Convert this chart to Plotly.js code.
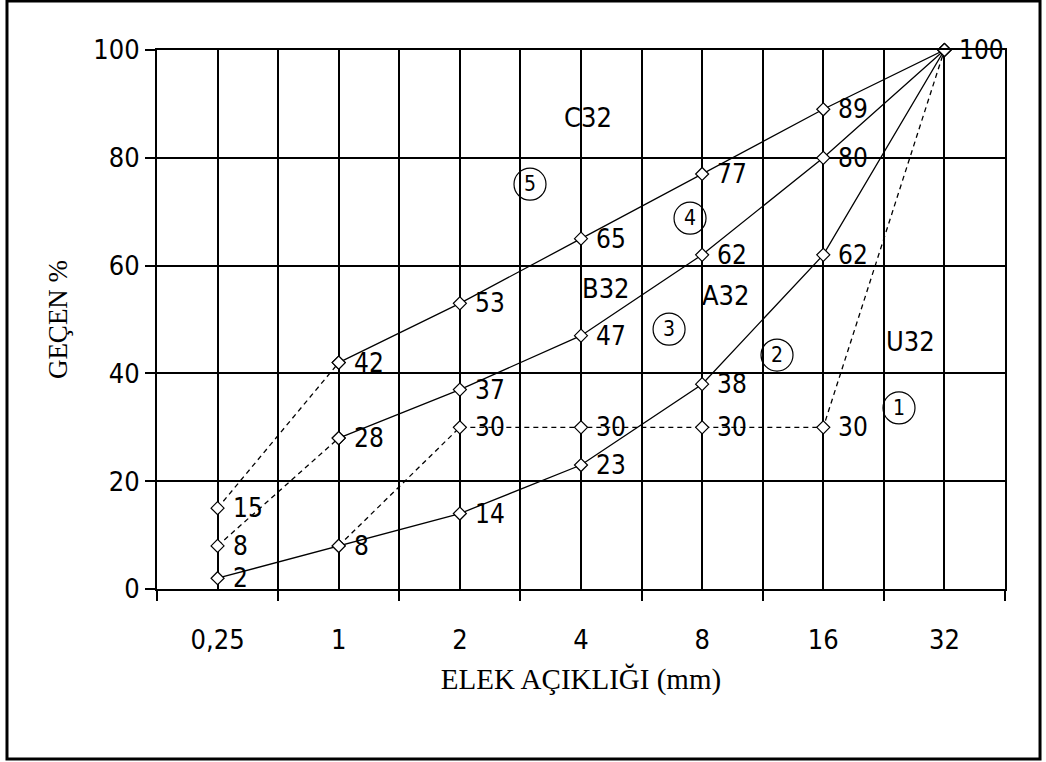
<!DOCTYPE html>
<html>
<head>
<meta charset="utf-8">
<script src="https://cdn.plot.ly/plotly-3.0.1.min.js"></script>
<style>html,body{margin:0;padding:0;background:#fff;}#chart{width:1046px;height:762px;}</style>
</head>
<body>
<div id="chart"></div>
<script>
// Sieve sizes (category axis) and passing percentages for the grading limit curves
const sieveSizes = ['0,25', '1', '2', '4', '8', '16', '32'];
const C32 = [15, 42, 53, 65, 77, 89, 100];
const B32 = [8, 28, 37, 47, 62, 80, 100];
const A32 = [2, 8, 14, 23, 38, 62, 100];
const U32 = [null, 8, 30, 30, 30, 30, 100];
const yTicks = [0, 20, 40, 60, 80, 100];
const curveNames = ['C32', 'B32', 'A32', 'U32'];
const zoneNumbers = ['1', '2', '3', '4', '5'];

const NARROW = '"Liberation Sans Narrow", "DejaVu Sans Condensed", "Arial Narrow", sans-serif';
const SERIF = '"Liberation Serif", "DejaVu Serif", serif';
const idx = sieveSizes.map((_, i) => i);

const markerStyle = {symbol: 'diamond', size: 10, color: '#fff', line: {color: '#000', width: 1.2}};
function seg(name, ys, from, to, dash) {
  const xs = [], vs = [];
  for (let i = from; i <= to; i++) { if (ys[i] !== null) { xs.push(i); vs.push(ys[i]); } }
  return {x: xs, y: vs, type: 'scatter', mode: 'lines+markers', name: name, cliponaxis: false,
          line: {color: '#000', width: 1.3, dash: dash}, marker: markerStyle, hoverinfo: 'x+y'};
}
const traces = [
  seg('C32', C32, 0, 1, '5px,4px'), seg('C32', C32, 1, 6, 'solid'),
  seg('B32', B32, 0, 1, '5px,4px'), seg('B32', B32, 1, 6, 'solid'),
  seg('U32', U32, 1, 6, '5px,4px'),
  seg('A32', A32, 0, 6, 'solid')
];

// value labels next to each point (shared points labelled once)
const annotations = [];
const seen = {};
[C32, B32, A32, U32].forEach(ser => ser.forEach((v, i) => {
  if (v === null) return;
  const k = i + '_' + v;
  if (seen[k]) return;
  seen[k] = true;
  annotations.push({x: i, y: v, xref: 'x', yref: 'y', text: String(v), showarrow: false,
    xanchor: 'left', yanchor: 'middle', xshift: 13, font: {family: NARROW, size: 26, color: '#000'}});
}));

// curve names
const namePos = {C32: [3.06, 87.4], B32: [3.21, 55.8], A32: [4.2, 54.4], U32: [5.72, 46.0]};
curveNames.forEach(n => annotations.push({x: namePos[n][0], y: namePos[n][1], text: n, showarrow: false,
  xanchor: 'center', yanchor: 'middle', font: {family: NARROW, size: 27, color: '#000'}}));

// zone numbers in circles
const zonePos = {'1': [5.625, 33.6], '2': [4.618, 43.4], '3': [3.727, 48.2], '4': [3.9, 68.8], '5': [2.579, 75.1]};
const shapes = [];
zoneNumbers.forEach(z => {
  const p = zonePos[z];
  annotations.push({x: p[0], y: p[1], text: z, showarrow: false, xanchor: 'center', yanchor: 'middle',
    font: {family: NARROW, size: 21, color: '#000'}});
  shapes.push({type: 'circle', xref: 'x', yref: 'y', xsizemode: 'pixel', ysizemode: 'pixel',
    xanchor: p[0], yanchor: p[1], x0: -16, x1: 16, y0: -16, y1: 16,
    line: {color: '#000', width: 1.2}, fillcolor: 'rgba(0,0,0,0)'});
});

// outer frame around the whole picture
shapes.push({type: 'rect', xref: 'paper', yref: 'paper', x0: -0.1769, x1: 1.0413, y0: -0.3154, y1: 1.0909,
  line: {color: '#000', width: 3}, layer: 'above'});

const bounds = sieveSizes.map((_, i) => i - 0.5).concat([sieveSizes.length - 0.5]);

const layout = {
  width: 1046, height: 762,
  margin: {l: 157, r: 41, t: 50, b: 173},
  paper_bgcolor: '#fff', plot_bgcolor: '#fff',
  showlegend: false,
  xaxis: {
    range: [-0.5, sieveSizes.length - 0.5], fixedrange: true,
    tickmode: 'array', tickvals: idx, ticktext: sieveSizes, ticks: '',
    ticklabelstandoff: 26,
    showgrid: true, gridcolor: '#000', gridwidth: 2,
    minor: {tickmode: 'array', tickvals: bounds, ticks: 'outside', ticklen: 10, tickwidth: 2,
            tickcolor: '#000', showgrid: true, gridcolor: '#000', gridwidth: 2},
    showline: true, linecolor: '#000', linewidth: 2, mirror: true, zeroline: false,
    tickfont: {family: NARROW, size: 27, color: '#000'},
    title: {text: 'ELEK AÇIKLIĞI (mm)', font: {family: SERIF, size: 29, color: '#000'}, standoff: 14}
  },
  yaxis: {
    range: [0, 100], fixedrange: true,
    tickmode: 'array', tickvals: yTicks, ticks: 'outside', ticklen: 10, tickwidth: 2, tickcolor: '#000',
    showgrid: true, gridcolor: '#000', gridwidth: 2,
    showline: true, linecolor: '#000', linewidth: 2, mirror: true, zeroline: false,
    tickfont: {family: NARROW, size: 27, color: '#000'},
    title: {text: 'GEÇEN %', font: {family: SERIF, size: 27, color: '#000'}, standoff: 18}
  },
  annotations: annotations,
  shapes: shapes
};

Plotly.newPlot('chart', traces, layout, {displayModeBar: false, staticPlot: true});
</script>
</body>
</html>
